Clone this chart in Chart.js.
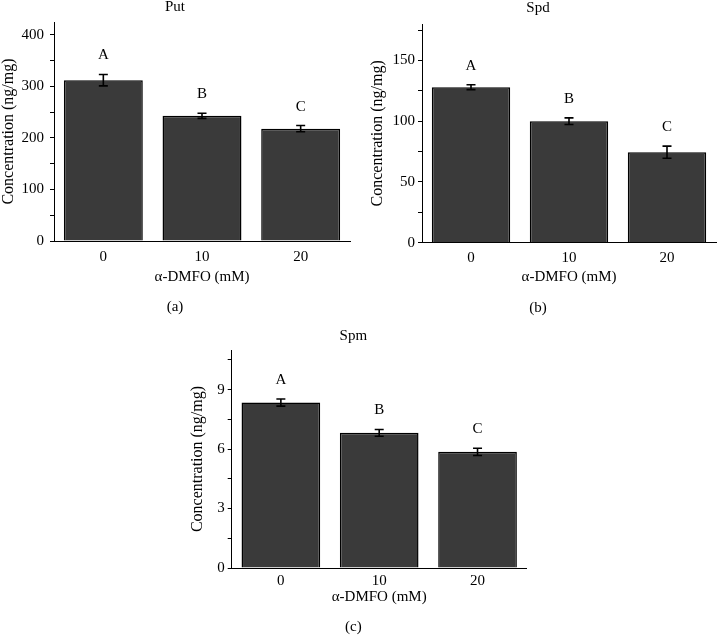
<!DOCTYPE html>
<html>
<head>
<meta charset="utf-8">
<script src="https://cdn.jsdelivr.net/npm/chart.js@4.4.1/dist/chart.umd.min.js"></script>
<style>
  body { margin: 0; background: #fff; width: 718px; height: 636px; position: relative; overflow: hidden; }
  canvas { position: absolute; }
</style>
</head>
<body>
<canvas id="put" width="360" height="320" style="left:0;top:0"></canvas>
<canvas id="spd" width="358" height="320" style="left:360px;top:0"></canvas>
<canvas id="spm" width="370" height="316" style="left:180px;top:320px"></canvas>
<script>
// data
const doses = ['0', '10', '20'];
const groupLetters = ['A', 'B', 'C'];

const putMeans = [312, 243, 218];
const putErrors = [11, 5, 6];
const spdMeans = [128, 100, 74.5];
const spdErrors = [2, 2.7, 5];
const spmMeans = [8.35, 6.82, 5.86];
const spmErrors = [0.18, 0.17, 0.18];

// y axis: max, minor tick step, labelled step
const putAxis = [425, 50, 100];
const spdAxis = [180, 25, 50];
const spmAxis = [11, 1.5, 3];

const FONT = "'Liberation Serif', 'Times New Roman', serif";
Chart.defaults.font.family = FONT;
Chart.defaults.font.size = 15;
Chart.defaults.color = '#000';

const isMultiple = (v, step) => Math.abs(v / step - Math.round(v / step)) < 1e-6;

// error bars + significance letters, drawn through the y scale
const errorBars = {
  id: 'errorBars',
  afterDatasetsDraw(chart, args, opts) {
    const { ctx } = chart;
    const y = chart.scales.y;
    const values = chart.data.datasets[0].data;
    const meta = chart.getDatasetMeta(0);
    ctx.save();
    ctx.strokeStyle = '#000';
    ctx.lineWidth = 1.6;
    ctx.fillStyle = '#000';
    ctx.font = '15px ' + FONT;
    ctx.textAlign = 'center';
    ctx.textBaseline = 'middle';
    meta.data.forEach((bar, i) => {
      const x = bar.x;
      const top = y.getPixelForValue(values[i] + opts.errors[i]);
      const bot = y.getPixelForValue(values[i] - opts.errors[i]);
      ctx.beginPath();
      ctx.moveTo(x, top); ctx.lineTo(x, bot);
      ctx.moveTo(x - 4.5, top); ctx.lineTo(x + 4.5, top);
      ctx.moveTo(x - 4.5, bot); ctx.lineTo(x + 4.5, bot);
      ctx.stroke();
      ctx.fillText(opts.letters[i], x, top - 19);
    });
    ctx.restore();
  }
};

function makeChart(id, title, panel, means, errors, axis, L) {
  const [yMax, minorStep, majorStep] = axis;
  return new Chart(document.getElementById(id), {
    type: 'bar',
    data: {
      labels: doses,
      datasets: [{
        data: means,
        backgroundColor: '#3a3a3a',
        borderColor: '#000',
        borderWidth: 1.5,
        inflateAmount: 0,
        barPercentage: 0.8,
        categoryPercentage: 1
      }]
    },
    plugins: [errorBars],
    options: {
      responsive: false,
      animation: false,
      layout: { padding: { left: 0, right: L.right, top: 0, bottom: 0 } },
      plugins: {
        legend: { display: false },
        tooltip: { enabled: false },
        title: {
          display: true,
          text: title,
          font: { size: 15, weight: 'normal', lineHeight: 1.2 },
          padding: { top: L.titleTop, bottom: L.titleBottom }
        },
        subtitle: {
          display: true,
          text: panel,
          position: 'bottom',
          font: { size: 15, lineHeight: 1.2 },
          padding: { top: L.subTop, bottom: L.subBottom }
        },
        errorBars: { errors: errors, letters: groupLetters }
      },
      scales: {
        x: {
          afterFit: (scale) => { scale.height = L.xHeight; },
          grid: { display: false, drawTicks: false },
          border: { display: true, color: '#000', width: 1 },
          ticks: { padding: L.xTickPad, font: { size: 15 } },
          title: {
            display: true,
            text: 'α-DMFO (mM)',
            font: { size: 15, lineHeight: 1.2 },
            padding: { top: 0, bottom: 0 }
          }
        },
        y: {
          min: 0,
          max: yMax,
          afterBuildTicks: (scale) => {
            const ticks = [];
            for (let k = 0; k * minorStep <= yMax + 1e-9; k++) {
              ticks.push({ value: +(k * minorStep).toFixed(6) });
            }
            scale.ticks = ticks;
          },
          afterFit: (scale) => { scale.width = L.yWidth; },
          grid: { display: true, drawOnChartArea: false, drawTicks: true, tickLength: 4, color: '#000' },
          border: { display: true, color: '#000', width: 1 },
          ticks: {
            stepSize: minorStep,
            autoSkip: false,
            padding: L.yTickPad,
            font: { size: 15 },
            callback: (v) => isMultiple(v, majorStep) ? String(Math.round(v)) : ''
          },
          title: {
            display: true,
            text: 'Concentration (ng/mg)',
            font: { size: 16, lineHeight: 1.2 },
            padding: { top: L.yTitlePad, bottom: 0 }
          }
        }
      }
    }
  });
}

makeChart('put', 'Put', '(a)', putMeans, putErrors, putAxis, {
  right: 10, titleTop: -1.5, titleBottom: 5.5, subTop: 12, subBottom: 4,
  xHeight: 45, xTickPad: 7.4, yWidth: 54, yTickPad: 6, yTitlePad: -0.6
});
makeChart('spd', 'Spd', '(b)', spdMeans, spdErrors, spdAxis, {
  right: 2, titleTop: -1, titleBottom: 7, subTop: 13, subBottom: 3,
  xHeight: 43.3, xTickPad: 6.7, yWidth: 62, yTickPad: 3, yTitlePad: 8.4
});
makeChart('spm', 'Spm', '(c)', spmMeans, spmErrors, spmAxis, {
  right: 23.3, titleTop: 7, titleBottom: 5, subTop: 12, subBottom: 0,
  xHeight: 38, xTickPad: 4.1, yWidth: 51.7, yTickPad: 3, yTitlePad: 8.4
});
</script>
</body>
</html>
